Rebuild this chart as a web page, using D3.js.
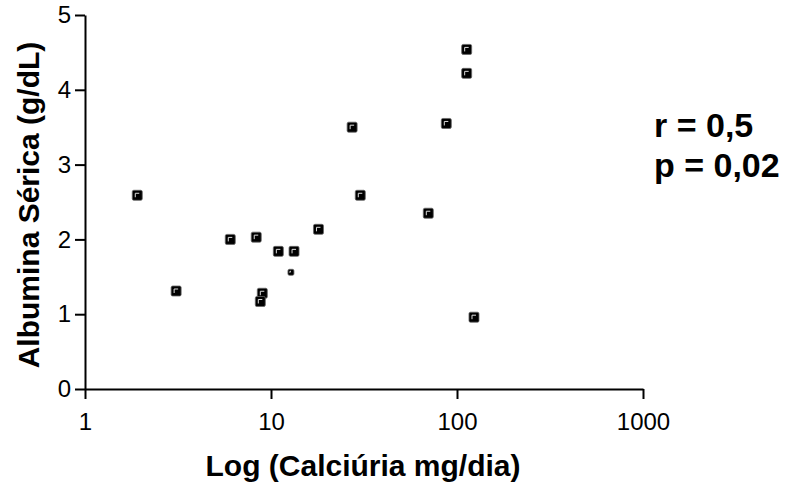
<!DOCTYPE html>
<html>
<head>
<meta charset="utf-8">
<script src="https://cdn.jsdelivr.net/npm/d3@7"></script>
<style>
  body { margin: 0; background: #fff; }
  svg { font-family: "Liberation Sans", Arial, sans-serif; }
  .axis path, .axis line { stroke: #000; stroke-width: 2px; }
  .axis text { font-size: 24px; fill: #000; }
</style>
</head>
<body>
<div id="chart"></div>
<script>
// chart size matches the window
const width = 791,
    height = 486,
    margin = ({ top: 15, right: 148, bottom: 97, left: 85 });

// calciuria (mg/dia) vs albumina serica (g/dL)
const calciuria = [1.91, 3.09, 6.04, 8.33, 8.98, 8.76, 10.95, 13.3, 12.8, 18.0, 27.3, 30.2, 70.1, 87.6, 112.7, 112.7, 123.4];
const albumina  = [2.59, 1.31, 2.00, 2.03, 1.28, 1.17, 1.84, 1.84, 1.56, 2.135, 3.50, 2.59, 2.35, 3.55, 4.54, 4.22, 0.96];
const small     = [false, false, false, false, false, false, false, false, true, false, false, false, false, false, false, false, false];

const xTicks = [1, 10, 100, 1000];
const yTicks = [0, 1, 2, 3, 4, 5];
const stats = ["r = 0,5", "p = 0,02"];

const data = calciuria.map((c, i) => ({ x: c, y: albumina[i], small: small[i] }));

const svg = d3.select("#chart")
    .append("svg")
    .attr("width", width)
    .attr("height", height);

let x = d3.scaleLog()
    .domain([1, 1000])
    .range([margin.left, width - margin.right]);

let y = d3.scaleLinear()
    .domain([0, 5])
    .range([height - margin.bottom, margin.top]);

// x axis
svg.append("g")
    .attr("class", "axis")
    .attr("transform", `translate(0,${y(0)})`)
    .call(d3.axisBottom(x).tickValues(xTicks).tickFormat(d3.format("d"))
        .tickSize(10).tickSizeOuter(0).tickPadding(14));

// y axis
svg.append("g")
    .attr("class", "axis")
    .attr("transform", `translate(${x(1)},0)`)
    .call(d3.axisLeft(y).tickValues(yTicks).tickFormat(d3.format("d"))
        .tickSize(10).tickSizeOuter(0).tickPadding(4));

svg.append("text")
    .attr("text-anchor", "middle")
    .attr("x", 363)
    .attr("y", 476)
    .style("font-size", "30px")
    .style("font-weight", "bold")
    .text("Log (Calciúria mg/dia)");

svg.append("text")
    .attr("text-anchor", "middle")
    .attr("transform", "translate(39,205) rotate(-90)")
    .style("font-size", "30px")
    .style("font-weight", "bold")
    .text("Albumina Sérica (g/dL)");

// r / p box
svg.selectAll(".stat")
    .data(stats)
    .join("text")
    .attr("class", "stat")
    .attr("x", 654)
    .attr("y", (d, i) => 137 + i * 40)
    .style("font-size", "34px")
    .style("font-weight", "bold")
    .text(d => d);

// markers: black squares with a light corner highlight
const pts = svg.append("g")
    .selectAll("g")
    .data(data)
    .join("g")
    .attr("transform", d => `translate(${x(d.x)},${y(d.y)})`);

pts.append("rect")
    .attr("x", d => d.small ? -3 : -5)
    .attr("y", d => d.small ? -3 : -5)
    .attr("width", d => d.small ? 6 : 10)
    .attr("height", d => d.small ? 6 : 10)
    .attr("rx", 1.5)
    .attr("fill", "#000")
    .attr("stroke", "#666")
    .attr("stroke-width", 0.8);

pts.append("path")
    .attr("d", d => d.small ? "M-1,0.5V-1H0" : "M-2,2V-2H2")
    .attr("fill", "none")
    .attr("stroke", "#ddd")
    .attr("stroke-width", 1);
</script>
</body>
</html>
